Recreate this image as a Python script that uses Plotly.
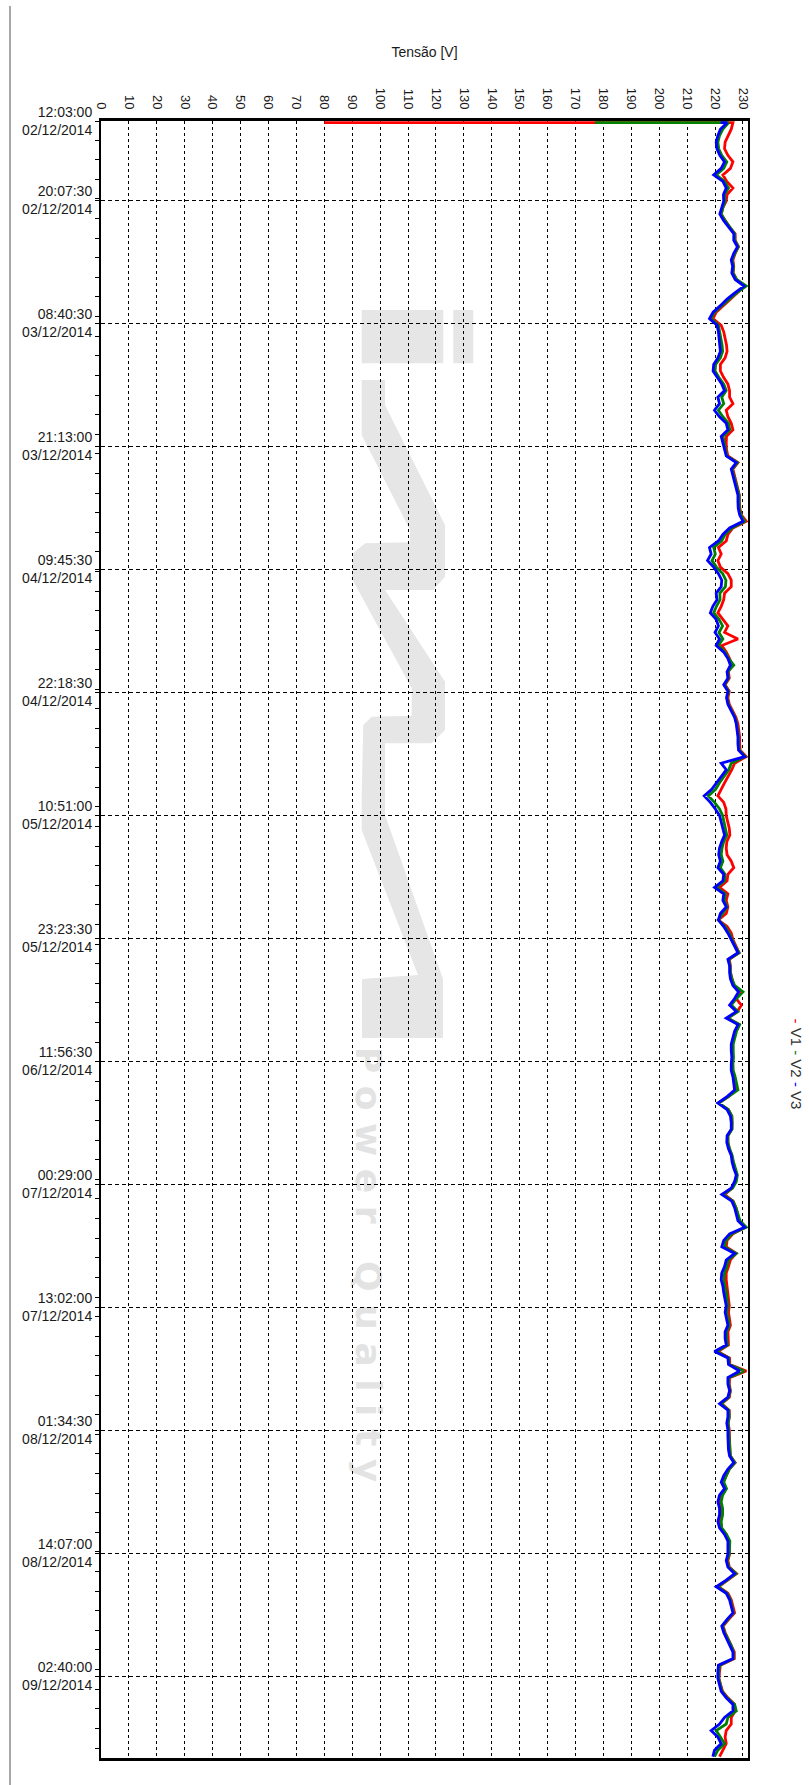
import pandas as pd
import plotly.graph_objects as go

# Measurement window (10-min logger, plotted every 40 min)
START = pd.Timestamp("2014-12-02 12:03:00")
END = pd.Timestamp("2014-12-09 11:01:00")
FIRST_MIN = 10
STEP_MIN = 40

# first logged record of each phase (before the logger settled)
V1_START, V2_START, V3_START = 80.0, 177.0, 222.0

# Phase voltages [V]
V1 = [
    226.4, 225.8, 224.6, 223.6, 223.4, 224.6, 226.4, 225.5, 222.8, 224.2, 226.4, 224.3, 224.0, 222.8,
    222.2, 223.6, 225.2, 227.2, 227.2, 228.4, 227.2, 226.4, 226.7, 226.5, 227.7, 230.6, 228.0, 225.3,
    222.9, 220.4, 219.3, 222.2, 223.1, 223.6, 224.1, 224.3, 223.6, 221.9, 221.9, 223.1, 224.6, 225.2,
    225.2, 226.4, 224.0, 224.6, 225.8, 226.4, 224.1, 224.0, 224.1, 224.6, 228.2, 226.4, 227.0, 227.6,
    228.2, 228.7, 228.7, 228.9, 229.4, 231.2, 226.4, 224.6, 224.0, 221.2, 222.2, 221.0, 221.9, 224.6,
    225.8, 225.8, 223.4, 223.1, 222.2, 221.0, 222.8, 224.6, 223.4, 228.2, 222.4, 224.0, 225.2, 226.0,
    224.8, 225.1, 223.6, 225.1, 224.6, 225.1, 226.3, 227.5, 228.2, 228.6, 228.8, 228.8, 229.0, 231.2,
    227.0, 226.0, 224.6, 223.4, 222.2, 221.0, 223.1, 223.9, 224.0, 224.6, 225.1, 225.3, 224.2, 224.0,
    224.3, 225.8, 226.7, 224.6, 224.3, 221.6, 224.6, 224.0, 224.6, 224.0, 221.2, 224.3, 225.8, 226.4,
    227.5, 228.6, 225.1, 225.5, 225.5, 226.0, 226.7, 229.2, 227.5, 229.4, 228.0, 224.6, 228.7, 227.5,
    226.7, 226.3, 226.3, 226.5, 226.3, 226.3, 226.7, 227.2, 227.5, 224.8, 221.2, 224.8, 226.0, 226.1,
    226.0, 224.6, 224.6, 225.1, 226.0, 226.4, 227.0, 227.8, 227.3, 226.1, 223.4, 226.5, 227.5, 228.0,
    228.7, 230.8, 226.4, 224.3, 224.0, 227.6, 225.5, 224.8, 224.0, 224.0, 224.3, 224.6, 224.9, 225.1,
    224.8, 225.2, 225.5, 224.6, 224.6, 224.8, 221.0, 225.2, 225.3, 231.2, 225.2, 225.1, 225.5, 225.1,
    222.4, 225.1, 225.1, 224.7, 225.1, 225.1, 225.1, 225.3, 225.5, 227.2, 225.1, 223.9, 222.9, 223.9,
    222.4, 221.7, 222.2, 222.2, 221.7, 222.2, 224.0, 225.1, 225.2, 225.2, 224.6, 225.1, 227.7, 224.6,
    221.2, 224.6, 225.8, 226.4, 227.0, 224.9, 222.9, 223.6, 224.8, 226.0, 226.9, 226.9, 221.9, 221.6,
    221.4, 222.0, 222.7, 224.6, 227.0, 227.2, 225.8, 225.8, 224.0, 223.6, 224.0, 222.8, 221.6,
]
V2 = [
    224.9, 222.8, 221.6, 221.0, 221.3, 222.4, 224.2, 223.1, 220.4, 223.4, 224.8, 223.4, 223.6, 222.8,
    222.2, 223.6, 225.2, 227.0, 227.1, 228.3, 227.1, 226.1, 226.6, 226.4, 227.7, 231.2, 227.8, 224.9,
    222.4, 219.8, 218.6, 221.2, 221.7, 222.2, 222.5, 222.7, 221.9, 220.2, 220.0, 221.4, 223.1, 224.0,
    222.4, 223.1, 221.2, 222.8, 224.8, 225.3, 222.9, 223.3, 223.7, 224.2, 228.0, 226.1, 226.7, 227.3,
    228.0, 228.6, 228.6, 228.7, 229.2, 230.6, 226.0, 223.6, 222.4, 219.5, 220.1, 218.9, 220.5, 222.7,
    223.9, 223.7, 221.7, 221.8, 220.5, 219.5, 221.4, 222.7, 221.4, 222.8, 221.2, 223.6, 224.9, 226.7,
    224.6, 224.8, 223.4, 224.8, 224.3, 224.8, 226.0, 227.2, 227.8, 228.2, 228.4, 228.4, 228.7, 230.8,
    225.8, 224.9, 223.1, 221.6, 220.2, 217.6, 219.8, 221.6, 222.7, 223.1, 223.7, 224.2, 223.1, 222.5,
    222.2, 222.8, 221.9, 223.6, 223.4, 220.5, 223.7, 223.4, 224.3, 222.7, 221.2, 223.6, 225.1, 226.1,
    227.2, 228.6, 224.9, 225.4, 225.5, 226.0, 227.0, 230.0, 227.7, 225.8, 228.2, 224.6, 228.8, 227.7,
    227.1, 226.5, 226.5, 226.6, 226.4, 226.5, 227.2, 227.7, 228.2, 224.8, 221.4, 224.8, 226.0, 226.1,
    226.1, 224.6, 224.6, 225.2, 226.1, 226.6, 227.2, 228.0, 227.6, 226.3, 222.9, 226.4, 227.5, 228.2,
    228.9, 231.2, 226.0, 223.9, 223.4, 227.6, 224.8, 224.2, 223.4, 223.1, 223.6, 224.0, 224.3, 224.6,
    224.2, 224.6, 225.1, 224.1, 224.1, 224.5, 220.5, 224.9, 225.1, 230.4, 224.9, 224.9, 225.4, 224.9,
    222.2, 224.9, 225.1, 224.7, 224.9, 224.9, 225.1, 225.3, 225.5, 227.1, 225.1, 224.0, 223.1, 224.1,
    222.7, 222.2, 222.7, 222.7, 222.2, 222.4, 224.1, 225.3, 225.3, 225.1, 224.3, 224.9, 227.5, 224.3,
    221.0, 224.3, 225.5, 226.0, 226.6, 224.6, 222.7, 223.4, 224.6, 225.8, 226.6, 226.6, 221.7, 221.3,
    221.3, 221.9, 222.5, 224.3, 227.0, 227.6, 224.6, 224.0, 220.4, 221.9, 223.4, 221.0, 219.8,
]
V3 = [
    224.3, 221.9, 221.0, 220.4, 220.7, 221.7, 223.4, 222.2, 219.5, 222.8, 224.0, 223.0, 223.1, 222.4,
    221.7, 223.1, 224.8, 226.7, 226.7, 228.0, 226.7, 225.8, 226.3, 226.0, 227.2, 230.4, 227.2, 224.3,
    221.9, 219.3, 218.0, 220.7, 221.2, 221.4, 221.8, 221.9, 221.0, 219.5, 219.3, 220.7, 222.4, 223.4,
    221.0, 221.6, 219.8, 221.6, 224.0, 224.6, 222.2, 222.8, 223.4, 224.0, 227.6, 225.8, 226.4, 227.0,
    227.6, 228.2, 228.2, 228.3, 228.8, 230.0, 225.2, 222.8, 221.2, 218.0, 218.6, 217.3, 219.5, 221.2,
    222.4, 222.2, 220.4, 220.7, 219.2, 218.3, 220.4, 221.2, 220.0, 221.6, 220.4, 223.1, 224.6, 225.5,
    224.3, 224.6, 223.1, 224.6, 224.1, 224.6, 225.8, 227.0, 227.6, 228.0, 228.2, 228.2, 228.4, 230.6,
    222.2, 224.0, 222.2, 220.4, 218.8, 216.1, 218.3, 220.1, 221.6, 222.2, 222.8, 223.4, 222.4, 221.6,
    221.3, 221.9, 221.0, 223.1, 222.8, 219.8, 223.1, 222.8, 224.0, 221.9, 221.2, 223.1, 224.6, 225.8,
    227.0, 228.2, 224.6, 225.2, 225.2, 225.5, 226.4, 228.4, 227.0, 225.2, 227.6, 224.0, 228.2, 227.0,
    226.4, 225.8, 225.8, 226.0, 225.8, 225.8, 226.4, 226.7, 227.0, 224.3, 221.0, 224.3, 225.5, 225.8,
    225.8, 224.3, 224.2, 224.8, 225.8, 226.1, 226.7, 227.6, 227.0, 225.8, 222.4, 226.0, 227.0, 227.6,
    228.2, 230.6, 225.2, 223.1, 222.4, 227.0, 224.0, 223.4, 222.4, 222.2, 222.8, 223.1, 223.6, 224.0,
    223.6, 224.0, 224.6, 223.6, 223.6, 224.0, 219.8, 224.6, 224.8, 228.8, 224.6, 224.6, 225.2, 224.6,
    221.6, 224.6, 224.6, 224.2, 224.6, 224.6, 224.6, 224.8, 225.2, 226.7, 224.6, 223.1, 222.2, 223.4,
    221.6, 221.0, 221.6, 221.6, 221.0, 221.6, 223.4, 224.6, 224.6, 224.6, 224.0, 224.6, 227.0, 224.0,
    220.4, 224.0, 225.2, 225.8, 226.4, 224.3, 222.4, 223.1, 224.3, 225.5, 226.4, 226.4, 221.2, 221.0,
    221.0, 221.6, 222.2, 224.0, 226.4, 226.4, 223.4, 221.6, 218.6, 221.0, 222.2, 219.8, 219.2,
]

TICK_TIMES = [
    "2014-12-02 12:03:00", "2014-12-02 20:07:30", "2014-12-03 08:40:30", "2014-12-03 21:13:00",
    "2014-12-04 09:45:30", "2014-12-04 22:18:30", "2014-12-05 10:51:00", "2014-12-05 23:23:30",
    "2014-12-06 11:56:30", "2014-12-07 00:29:00", "2014-12-07 13:02:00", "2014-12-08 01:34:30",
    "2014-12-08 14:07:00", "2014-12-09 02:40:00",
]
VOLT_TICKS = list(range(0, 231, 10))
VOLT_MAX = 231.8

SERIES = [("V1", V1_START, V1, "#ff0000"), ("V2", V2_START, V2, "#008000"), ("V3", V3_START, V3, "#0000ff")]

# ---- figure geometry (pixels) ----
W, H = 809, 1785
ML, MR, MT, MB = 101, 61, 121, 27
PW, PH = W - ML - MR, H - MT - MB


def px(x):
    return (x - ML) / PW


def py(y):
    return 1 - (y - MT) / PH


def times_for(n):
    t = [START + pd.Timedelta(minutes=FIRST_MIN)]
    t += [START + pd.Timedelta(minutes=FIRST_MIN + STEP_MIN * k) for k in range(n)]
    return t


fig = go.Figure()
for name, first, vals, color in SERIES:
    fig.add_trace(go.Scatter(
        x=[first] + vals, y=times_for(len(vals)), mode="lines", name=name,
        line=dict(color=color, width=2.8), showlegend=False,
    ))

tick_ts = [pd.Timestamp(t) for t in TICK_TIMES]
tick_text = [t.strftime("%H:%M:%S") + "<br>" + t.strftime("%d/%m/%Y") for t in tick_ts]

TXT = "#1a1a1a"
fig.update_layout(
    width=W, height=H,
    margin=dict(l=ML, r=MR, t=MT, b=MB, pad=0),
    paper_bgcolor="white", plot_bgcolor="white",
    showlegend=False,
    font=dict(family="Liberation Sans, Arial, sans-serif", size=14, color=TXT),
    title=dict(text="Tensão [V]", x=0.5, xref="paper", xanchor="center",
               y=1 - 52 / H, yref="container", yanchor="middle",
               font=dict(size=14, color=TXT)),
    xaxis=dict(
        side="top", range=[0, VOLT_MAX], tickmode="array", tickvals=VOLT_TICKS,
        tickangle=90, ticks="", ticklabelstandoff=4,
        tickfont=dict(size=13, color=TXT),
        showgrid=True, gridcolor="black", gridwidth=1, griddash="3px,3px",
        showline=True, linecolor="black", linewidth=3, mirror=True, zeroline=False,
    ),
    yaxis=dict(
        type="date", range=[END, START], tickmode="array", tickvals=tick_ts, ticktext=tick_text,
        ticks="outside", ticklen=4, tickcolor="black", tickwidth=1,
        tickfont=dict(size=14, color=TXT),
        showgrid=True, gridcolor="black", gridwidth=1, griddash="4px,3px",
        showline=True, linecolor="black", linewidth=2, mirror=True, zeroline=False,
        minor=dict(ticks="outside", ticklen=4, tickcolor="black", tickwidth=1,
                   tickmode="linear", dtick=2 * 3600 * 1000, tick0="2014-12-02 00:00:00",
                   showgrid=False),
    ),
)

# legend text at the right edge
fig.add_annotation(
    text=('<span style="color:#ff0000">-</span> V1 '
          '<span style="color:#008000">-</span> V2 '
          '<span style="color:#0000ff">-</span> V3'),
    textangle=90, x=px(807), y=py(1064), xref="paper", yref="paper",
    showarrow=False, font=dict(size=15, color="#333333"),
)

# page frame line on the left
fig.add_shape(type="line", xref="paper", yref="paper",
              x0=px(10), x1=px(10), y0=py(6), y1=py(H),
              line=dict(color="#a8a8a8", width=2))

# watermark logo
WM = "#e6e6e6"
logo = [
    (361.7, 380), (361.7, 435), (410, 530), (410, 542.3), (365, 543.3), (353.3, 553.3),
    (351.7, 578.3), (411.7, 688.3), (411.7, 715.7), (371.7, 716.7), (363.3, 725),
    (361.7, 795), (361.7, 830), (418, 975), (362, 979), (362, 1038), (443, 1038),
    (443, 979), (385, 815), (385, 795), (385, 743.3), (431.7, 743.3), (445, 730),
    (445, 681.7), (385, 590), (433.3, 590), (445, 576.7), (445, 525), (385, 405), (385, 380),
]
path = "M " + " L ".join(f"{px(x):.5f},{py(y):.5f}" for x, y in logo) + " Z"
fig.add_shape(type="path", path=path, xref="paper", yref="paper",
              fillcolor=WM, line=dict(width=0), layer="below")
for x0, x1 in [(361.7, 443.3), (453.3, 473.3)]:
    fig.add_shape(type="rect", xref="paper", yref="paper",
                  x0=px(x0), x1=px(x1), y0=py(310), y1=py(363.3),
                  fillcolor=WM, line=dict(width=0), layer="below")

NB = "\u00a0"
brand = NB.join("Power") + NB * 3 + NB.join("Quality")
fig.add_shape(type="rect", xref="paper", yref="paper",
              x0=px(355), x1=px(388), y0=py(1041), y1=py(1488),
              fillcolor="rgba(0,0,0,0)", line=dict(width=0), layer="below",
              label=dict(text=brand, textangle=90, textposition="middle center",
                         font=dict(size=36, color="#e3e3e3", family="DejaVu Sans",
                                   weight="bold")))

fig.write_html("out.html")
